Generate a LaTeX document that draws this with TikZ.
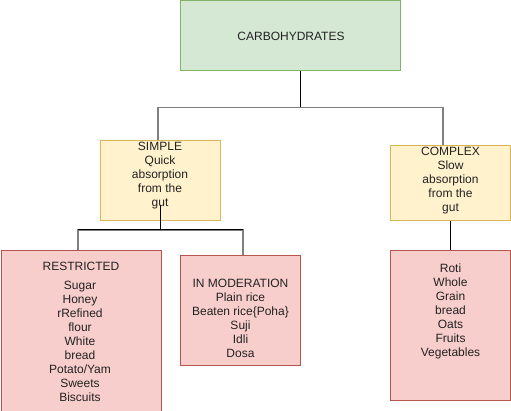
\documentclass[tikz,border=0pt]{standalone}
\usepackage{fontspec}
\setmainfont{Liberation Sans}
\definecolor{gfill}{HTML}{D5E8D4}\definecolor{gdraw}{HTML}{82B366}
\definecolor{yfill}{HTML}{FFF2CC}\definecolor{ydraw}{HTML}{D6B656}
\definecolor{rfill}{HTML}{F8CECC}\definecolor{rdraw}{HTML}{B85450}
\definecolor{edgegray}{HTML}{808080}
\definecolor{txt}{HTML}{222222}
\begin{document}
\begin{tikzpicture}[x=1pt,y=-1pt,
  box/.style={draw, line width=1pt, inner sep=0pt, anchor=north west},
  gbox/.style={box, fill=gfill, draw=gdraw},
  ybox/.style={box, fill=yfill, draw=ydraw},
  rbox/.style={box, fill=rfill, draw=rdraw},
  lbl/.style={align=center, inner sep=0pt, text=txt, font=\fontsize{12}{14}\selectfont},
  blk/.style={draw=black, line width=1pt},
  gry/.style={draw=edgegray, line width=1.5pt}]
\useasboundingbox (0,0) rectangle (511,411);
\node[gbox, minimum width=220pt, minimum height=70pt] (carb) at (180,0.5) {};
\node[ybox, minimum width=120pt, minimum height=80pt] (simple) at (100,140) {};
\node[ybox, minimum width=120pt, minimum height=75pt] (complex) at (390,145) {};
\node[rbox, minimum width=160pt, minimum height=160pt] (restr) at (0.5,250.5) {};
\node[rbox, minimum width=120pt, minimum height=110pt] (moder) at (180,255) {};
\node[rbox, minimum width=120pt, minimum height=150pt] (cpx) at (390,250) {};

\node[lbl] (carbT) at (291,36) {CARBOHYDRATES};
\node[lbl] (simpleT) at (160,175.5) {SIMPLE\\Quick\\absorption\\from the\\gut};
\node[lbl] (complexT) at (450.5,181) {COMPLEX\\Slow\\absorption\\from the\\gut};
\node[lbl] (restrH) at (81,266) {RESTRICTED};
\node[lbl] (restrT) at (80,341.5) {Sugar\\Honey\\rRefined\\flour\\White\\bread\\Potato/Yam\\Sweets\\Biscuits};
\node[lbl] (moderT) at (240.5,318) {IN MODERATION\\Plain rice\\Beaten rice\{Poha\}\\Suji\\Idli\\Dosa};
\node[lbl] (cpxT) at (450.5,311.5) {Roti\\Whole\\Grain\\bread\\Oats\\Fruits\\Vegetables};

\coordinate (j1) at (300,107.5);
\coordinate (j2) at (160,230);
\coordinate (sgut) at (160,205);

\draw[gry] (simple.north -| 158,0) |- (j1) -| (complex.north -| 443,0);
\draw[blk] (carb.south -| j1) -- (j1);
\draw[gry] (restr.north -| 78,0) |- (j2) -| (moder.north -| 243,0);
\draw[blk] (78,230) -- (243,230);
\draw[blk] (sgut) -- (j2);
\draw[blk] (complex.south -| 450.5,0) -- (cpx.north -| 450.5,0);
\end{tikzpicture}
\end{document}
